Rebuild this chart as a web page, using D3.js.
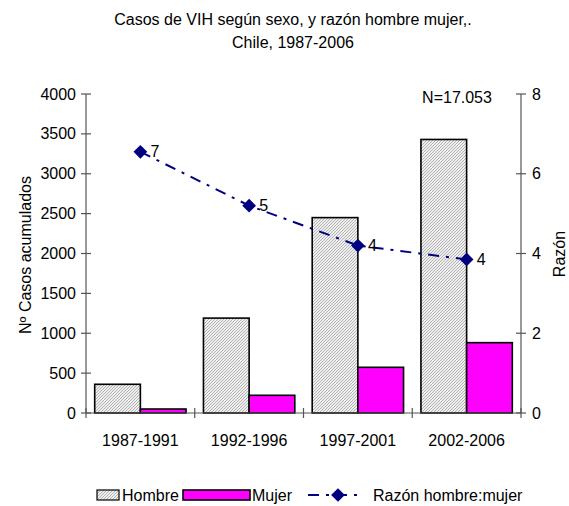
<!doctype html>
<html lang="es">
<head>
  <meta charset="utf-8">
  <script src="https://d3js.org/d3.v7.min.js"></script>
  <style>
    body { margin: 0; background: #fff; }
    text { font-family: "Liberation Sans", Arial, sans-serif; fill: #000; }
  </style>
</head>
<body>
  <script>
    var width = 569,
        height = 506;

    // data
    var periodos = ["1987-1991", "1992-1996", "1997-2001", "2002-2006"];
    var hombre = [360, 1190, 2450, 3430];
    var mujer = [50, 222, 573, 882];
    var razon = [6.55, 5.2, 4.2, 3.85];
    var razonEtiq = ["7", "5", "4", "4"];
    var ticksCasos = [0, 500, 1000, 1500, 2000, 2500, 3000, 3500, 4000];
    var ticksRazon = [0, 2, 4, 6, 8];

    // plot box (don't use "top" - it clashes with window.top)
    var pLeft = 86, pRight = 521, pTop = 94, pBottom = 413;

    var svg = d3.select("body").append("svg")
        .attr("width", width)
        .attr("height", height);

    // hatched fill for Hombre
    var defs = svg.append("defs");
    var pat = defs.append("pattern")
        .attr("id", "hatch")
        .attr("patternUnits", "userSpaceOnUse")
        .attr("width", 3).attr("height", 3);
    pat.append("rect").attr("width", 3).attr("height", 3).attr("fill", "#eeeeee");
    pat.append("path")
        .attr("d", "M-1,1 L1,-1 M0,3 L3,0 M2,4 L4,2")
        .attr("stroke", "#9a9a9a").attr("stroke-width", 0.7);

    var x = d3.scaleBand().domain(periodos).range([pLeft, pRight]).padding(0);
    var y = d3.scaleLinear().domain([0, 4000]).range([pBottom, pTop]);
    var y2 = d3.scaleLinear().domain([0, 8]).range([pBottom, pTop]);

    var barW = x.bandwidth() * 0.42;
    var off = x.bandwidth() * 0.5 - barW;

    // title
    svg.append("text").attr("x", 293).attr("y", 25).attr("text-anchor", "middle")
        .style("font-size", "16px").text("Casos de VIH según sexo, y razón hombre mujer,.");
    svg.append("text").attr("x", 293).attr("y", 48).attr("text-anchor", "middle")
        .style("font-size", "16px").text("Chile, 1987-2006");

    // bars
    var g = svg.append("g");
    g.selectAll("rect.h")
        .data(hombre)
      .enter().append("rect")
        .attr("class", "h")
        .attr("x", function(d, i) { return x(periodos[i]) + off; })
        .attr("y", function(d) { return y(d); })
        .attr("width", barW)
        .attr("height", function(d) { return pBottom - y(d); })
        .attr("fill", "url(#hatch)")
        .attr("stroke", "#000").attr("stroke-width", 1.6);
    g.selectAll("rect.m")
        .data(mujer)
      .enter().append("rect")
        .attr("class", "m")
        .attr("x", function(d, i) { return x(periodos[i]) + off + barW; })
        .attr("y", function(d) { return y(d); })
        .attr("width", barW)
        .attr("height", function(d) { return pBottom - y(d); })
        .attr("fill", "#ff00ff")
        .attr("stroke", "#000").attr("stroke-width", 1.6);

    // axes
    var axisCol = "#555";
    var ax = svg.append("g").attr("stroke", axisCol).attr("stroke-width", 1.2);
    ax.append("line").attr("x1", pLeft).attr("x2", pLeft).attr("y1", pTop).attr("y2", pBottom);
    ax.append("line").attr("x1", pRight).attr("x2", pRight).attr("y1", pTop).attr("y2", pBottom);
    ax.append("line").attr("x1", pLeft).attr("x2", pRight).attr("y1", pBottom).attr("y2", pBottom);

    ax.selectAll("line.tl").data(ticksCasos).enter().append("line")
        .attr("x1", pLeft - 5).attr("x2", pLeft + 5)
        .attr("y1", function(d) { return y(d); }).attr("y2", function(d) { return y(d); });
    ax.selectAll("line.tr").data(ticksRazon).enter().append("line")
        .attr("x1", pRight - 5).attr("x2", pRight + 5)
        .attr("y1", function(d) { return y2(d); }).attr("y2", function(d) { return y2(d); });
    var bounds = periodos.map(function(p) { return x(p); }).concat([pRight]);
    ax.selectAll("line.tb").data(bounds).enter().append("line")
        .attr("x1", function(d) { return d; }).attr("x2", function(d) { return d; })
        .attr("y1", pBottom - 5).attr("y2", pBottom + 5);

    svg.selectAll("text.tl").data(ticksCasos).enter().append("text")
        .attr("x", pLeft - 10).attr("y", function(d) { return y(d); })
        .attr("dy", "0.35em").attr("text-anchor", "end")
        .style("font-size", "16px").text(function(d) { return d; });
    svg.selectAll("text.tr").data(ticksRazon).enter().append("text")
        .attr("x", pRight + 11).attr("y", function(d) { return y2(d); })
        .attr("dy", "0.35em")
        .style("font-size", "16px").text(function(d) { return d; });
    svg.selectAll("text.tb").data(periodos).enter().append("text")
        .attr("x", function(d) { return x(d) + x.bandwidth() / 2; })
        .attr("y", 446).attr("text-anchor", "middle")
        .style("font-size", "16px").text(function(d) { return d; });

    // axis titles
    svg.append("text").attr("transform", "translate(31,255) rotate(-90)")
        .attr("text-anchor", "middle").style("font-size", "16px").text("Nº Casos acumulados");
    svg.append("text").attr("transform", "translate(565,254) rotate(-90)")
        .attr("text-anchor", "middle").style("font-size", "16px").text("Razón");

    svg.append("text").attr("x", 457).attr("y", 103).attr("text-anchor", "middle")
        .style("font-size", "16px").text("N=17.053");

    // ratio line
    var cx = function(d, i) { return x(periodos[i]) + x.bandwidth() / 2; };
    var line = d3.line().x(cx).y(function(d) { return y2(d); });
    svg.append("path").datum(razon)
        .attr("d", line)
        .attr("fill", "none").attr("stroke", "#000080").attr("stroke-width", 2)
        .attr("stroke-dasharray", "11,7,3,7");
    svg.selectAll("path.dia").data(razon).enter().append("path")
        .attr("d", d3.symbol().type(d3.symbolDiamond2).size(120))
        .attr("transform", function(d, i) { return "translate(" + cx(d, i) + "," + y2(d) + ")"; })
        .attr("fill", "#000080");
    svg.selectAll("text.rl").data(razon).enter().append("text")
        .attr("x", function(d, i) { return cx(d, i) + 10; })
        .attr("y", function(d) { return y2(d); })
        .attr("dy", "0.35em")
        .style("font-size", "16px").text(function(d, i) { return razonEtiq[i]; });

    // legend
    var ly = 495;
    var lg = svg.append("g");
    lg.append("rect").attr("x", 97).attr("y", ly - 5).attr("width", 22).attr("height", 10)
        .attr("fill", "url(#hatch)").attr("stroke", "#000").attr("stroke-width", 1.2);
    lg.append("text").attr("x", 122).attr("y", ly).attr("dy", "0.35em")
        .style("font-size", "16px").text("Hombre");
    lg.append("rect").attr("x", 183).attr("y", ly - 5).attr("width", 67).attr("height", 10)
        .attr("fill", "#ff00ff").attr("stroke", "#000").attr("stroke-width", 1.6);
    lg.append("text").attr("x", 252).attr("y", ly).attr("dy", "0.35em")
        .style("font-size", "16px").text("Mujer");
    lg.append("line").attr("x1", 308).attr("x2", 364).attr("y1", ly).attr("y2", ly)
        .attr("stroke", "#000080").attr("stroke-width", 2)
        .attr("stroke-dasharray", "11,7,3,7");
    lg.append("path").attr("d", d3.symbol().type(d3.symbolDiamond2).size(120))
        .attr("transform", "translate(338," + ly + ")").attr("fill", "#000080");
    lg.append("text").attr("x", 373).attr("y", ly).attr("dy", "0.35em")
        .style("font-size", "16px").text("Razón hombre:mujer");
  </script>
</body>
</html>
